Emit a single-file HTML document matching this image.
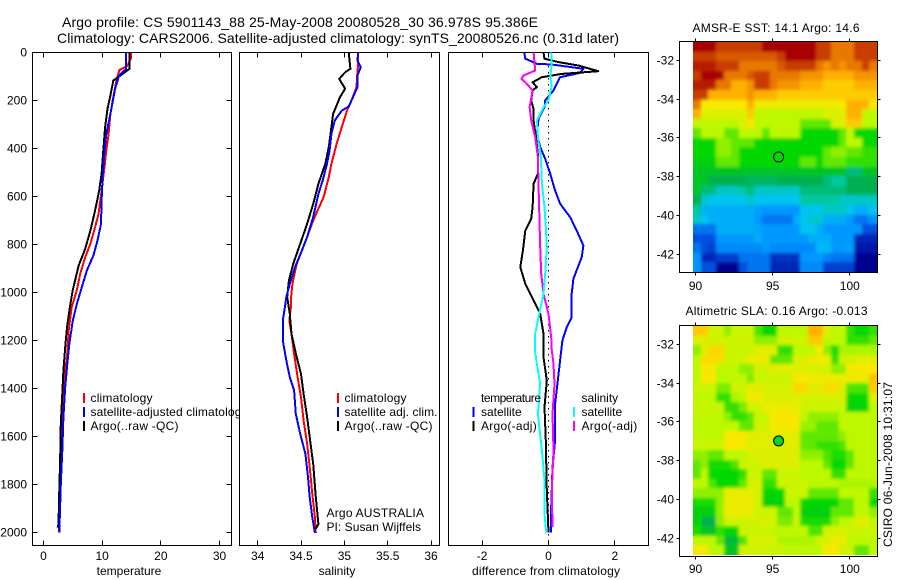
<!DOCTYPE html>
<html lang="en">
<head>
<meta charset="utf-8">
<title>Argo profile 5901143_88</title>
<style>
html,body{margin:0;padding:0;background:#fff;width:900px;height:580px;overflow:hidden}
svg{display:block}
text{font-family:"Liberation Sans",Arial,sans-serif;font-size:12px;fill:#000}
</style>
</head>
<body>
<svg id="chart" xmlns="http://www.w3.org/2000/svg" width="900" height="580" viewBox="0 0 900 580">
<defs>
<filter id="soften" x="-5%" y="-5%" width="110%" height="110%"><feGaussianBlur stdDeviation="1.5"/></filter>
<clipPath id="sst-clip"><rect x="693" y="42" width="184" height="230"/></clipPath>
<clipPath id="sla-clip"><rect x="693" y="326" width="184" height="229"/></clipPath>
</defs>
</svg>
<script>
/* ---------- temperature panel data ---------- */
const tempClimDepth = [0,26,57,72,110,186,256,339,408,478,575,672,728,797,853,922,989,1061,1158,1269,1353,1450,1575,1714,1880,2000];
const tempClimValue = [14.9,14.9,14.2,12.95,12.5,11.9,11.4,11.1,10.7,10.4,9.9,9.4,8.8,8.0,7.1,6.25,5.7,4.8,4.3,4.0,3.5,3.3,3.07,2.84,2.67,2.6];
const tempSatDepth = [0,68,96,151,256,339,408,505,617,714,783,846,908,989,1047,1117,1214,1311,1394,1520,1658,1797,1880,2000];
const tempSatValue = [14.1,14.1,12.9,12.2,11.4,10.7,10.4,10.1,9.9,9.8,9.2,8.5,7.4,6.4,5.7,5.0,4.4,4.0,3.7,3.4,3.2,2.95,2.84,2.7];
const tempArgoDepth = [0,68,96,117,179,235,311,408,505,575,658,742,818,887,989,1061,1144,1228,1325,1422,1547,1686,1839,1964,1980];
const tempArgoValue = [14.66,14.66,13.1,11.9,11.4,10.9,10.5,10.2,9.9,9.5,8.8,8.0,7.1,6.0,5.0,4.5,4.0,3.7,3.4,3.2,2.95,2.84,2.67,2.56,2.4];
const tempTicks = [0,10,20,30];

/* ---------- salinity panel data ---------- */
const salClimDepth = [0,47,82,144,193,242,311,381,464,519,603,651,700,769,825,881,964,1019,1054,1117,1172,1256,1353,1436,1533,1630,1728,1839,1936,2002];
const salClimValue = [35.16,35.16,35.15,35.14,35.09,35.03,34.97,34.91,34.85,34.82,34.76,34.70,34.64,34.57,34.51,34.45,34.40,34.385,34.385,34.365,34.39,34.42,34.46,34.5,34.53,34.57,34.6,34.63,34.66,34.67];
const salSatDepth = [0,33,61,96,144,186,225,242,283,339,408,464,533,589,686,769,825,894,964,1019,1047,1117,1200,1283,1353,1408,1506,1589,1672,1769,1853,1936,2002];
const salSatValue = [35.16,35.15,35.19,35.15,35.15,35.1,35.05,34.97,34.89,34.85,34.83,34.8,34.75,34.7,34.64,34.57,34.51,34.43,34.37,34.33,34.32,34.29,34.29,34.33,34.37,34.42,34.44,34.49,34.55,34.58,34.6,34.63,34.66];
const salArgoDepth = [0,68,82,110,151,186,221,256,311,394,464,547,631,714,797,881,950,1019,1089,1172,1269,1339,1422,1519,1603,1714,1853,1964,1985];
const salArgoValue = [35.05,35.07,35.01,34.94,35.01,34.95,34.91,34.87,34.85,34.82,34.78,34.7,34.64,34.57,34.49,34.41,34.36,34.34,34.37,34.39,34.45,34.5,34.53,34.57,34.6,34.64,34.67,34.7,34.67];
const salTicks = [34,34.5,35,35.5,36];

/* ---------- difference panel data ---------- */
const diffTSatDepth = [0,26,47,50,68,85,103,158,200,221,276,339,394,443,505,575,630,686,742,804,853,943,1005,1103,1144,1200,1283,1367,1464,1617,1728,1894,2000];
const diffTSatValue = [-0.73,-0.7,-0.35,0.1,1.05,0.95,0.35,0.15,-0.1,-0.1,-0.3,-0.35,-0.25,-0.1,0.05,0.2,0.35,0.65,0.85,1.05,1.0,0.75,0.7,0.7,0.55,0.42,0.35,0.28,0.2,0.2,0.12,0.08,0.08];
const diffTArgoDepth = [0,26,40,54,78,89,103,124,144,158,200,235,283,353,436,505,547,644,693,742,825,894,964,1033,1089,1172,1269,1367,1478,1617,1825,2000];
const diffTArgoValue = [-0.15,-0.12,0.3,0.9,1.5,0.4,-0.2,-0.48,-0.35,-0.48,-0.52,-0.45,-0.45,-0.38,-0.31,-0.32,-0.45,-0.48,-0.52,-0.7,-0.77,-0.85,-0.7,-0.45,-0.25,-0.15,-0.15,-0.05,-0.12,-0.08,-0.05,0];
const diffSSatDepth = [0,47,103,138,200,228,283,353,436,547,644,728,811,922,1005,1103,1172,1241,1297,1381,1506,1658,1783,1922,2000];
const diffSSatValue = [0.08,0.1,0.05,0.1,0,-0.15,-0.35,-0.32,-0.23,-0.2,-0.12,-0.08,-0.05,-0.1,-0.15,-0.3,-0.4,-0.41,-0.35,-0.25,-0.32,-0.2,-0.12,-0.12,-0.07];
const diffSArgoDepth = [0,75,96,110,124,158,228,283,353,436,547,658,811,922,1005,1089,1186,1241,1297,1381,1506,1658,1825,1978];
const diffSArgoValue = [-0.45,-0.4,-0.75,-0.82,-0.7,-0.48,-0.57,-0.52,-0.4,-0.32,-0.3,-0.28,-0.25,-0.22,-0.15,0,0.08,0.1,0.15,0.18,0.12,0.15,0.1,0.12];
const diffTicks = [-2,0,2];

const depthTicks = [0,200,400,600,800,1000,1200,1400,1600,1800,2000];

/* ---------- map axis data ---------- */
const lonTicks = [90,95,100];
const latTicks = [-32,-34,-36,-38,-40,-42];
const argoLon = [95.386];
const argoLat = [-36.978];

/* colour-scale position per cell, north to south */
const sstGrid = [
[13,13,13,12,12,12,12,12,12,13,13,13,13,13,13,13,12,12,11,11,11,12,12,12],
[12,12,12,11.5,11.5,11.5,11.5,11.5,11.5,11.5,11.5,12,13,13,13,13,12,12,11,11,11,12,12,12],
[12.5,12.5,12.5,12,12,12,11,11,11,11,11,11.5,12,12,12,12,11,10.5,11,10.5,11,11,12,11],
[12,13,13,13,11,11,11,11.5,12,12,11,11,11,11,10.5,10.5,10.5,10,10,10,10,10.5,10.5,10.5],
[12.5,12.5,12.5,11,11,10,10,10.5,12,12,11,10.5,10.5,10.5,10,10,10,9.5,9.5,9.5,9.5,10,10,10],
[12,12,10,10,10,10,10,10.5,10,10,10,9.5,9.5,9.5,9.5,9.5,9.5,9.5,9.5,9.5,9.5,9.5,9.5,9.5],
[11,9,9,9,9,9,9,10,8.8,8.8,8.8,8.8,8.8,8.8,8.8,8.8,8.8,8.8,8.8,9,10,10,10,9],
[10,8.5,8.5,8.5,8.5,8.5,8.5,9.5,8,8,8,8,8,8,8,8,8,8.5,8.5,8.5,10,10,8,8],
[8,8,8,8,8,8,8.5,9,8,8,8,8,8,8,7,7,7,7,8.5,8.5,9.5,9.5,8,8],
[7,8,8,8,7,7,8,8,8,7,8,8,8,8,6,6,6,6,6,7,8,6,6,6],
[6,6,6,7.5,7.5,7,7,7,6,6,6,6,6,6,6,6,6,6,6,7,8,8,6,6],
[6,6,6,7.5,7.5,7,6,6,6,6,6,6,6,6,6,6,6,7,7.5,7.5,7,7,6.5,6.5],
[5.8,5.8,5.8,7,7,7,6,6,6,6,6,6,6,6,7,7,6,7,7,7,6.5,6.5,6.5,6.5],
[5.5,5.5,5.5,5.5,5.5,5.5,5.5,5.5,5.5,5.5,5.5,5.5,5.5,5.5,5.5,5.5,5.5,5.5,5.5,5.5,4.5,4.5,5.5,5.5],
[5.5,5.5,5,5,5,5,5,4.8,4.8,4.8,4.8,5,5,5,5,5,5,4.5,4,4,5,5,5,5],
[5.5,4.5,4.5,3.5,3.5,3.5,4,4.5,3.5,3.5,3.5,3.5,3.5,3.5,4.5,4.5,4.5,4.5,4.5,4.5,5,5,5,5],
[5,3.5,3,3,3,3,3,3.5,3,3,3,3,3,3,4,4,4,4,4,3.5,3.5,3.5,3.5,3.5],
[4,2.5,2.5,2.5,2.5,2.5,2.5,2.5,2.2,2,2,2,2,2,3,3,3,3.5,3.5,3.5,3,2.5,2.5,3],
[3.5,3,2.5,2.5,2.5,2.5,2.5,2.5,2,1.5,1.5,1.5,1.5,2.5,3,3.5,3.5,2.5,2.5,2.5,2,1.5,1.5,2],
[1.5,1.5,1.5,2.5,2.5,2.5,2.5,2.5,2.3,2,2,2,2,2,3,3,2.5,2,2,2,2,2,1,1],
[1,1,1,2,2,2,2,2,2.5,2,2,2,2,2,2,2.5,2.5,2.5,2,2,2,0.5,0.5,0.5],
[1.5,1,0.8,1.8,1.8,1.8,1.8,1.8,1.8,2,1.8,1.8,1.8,1.8,1.8,1.8,2.7,2.7,2,2,2.2,0.3,0.3,0.3],
[2,0.5,0.5,0.8,0.8,0.8,1.5,1.5,1.5,1.5,0.6,0.6,0.6,0.6,2,2,2,1.7,1.5,1.5,1.5,0,0,0],
[2,1,1,0,0,0,1,1.5,1.5,1.5,0.5,0.5,0.5,0.5,1.8,1.8,1.8,0.8,0.8,0.8,0.8,0,0,0]
];
const slaGrid = [
[9.5,9.5,8.3,8.3,7.5,8.2,8.2,8.2,6.8,6,6,8,8,8,8,10,10,8.5,8,8,6.5,6,6,6.5],
[8.5,8.5,8.3,8.3,8.3,8.3,8.3,8.3,7.5,7.5,7.5,8.3,8.3,8.3,8.3,9.5,9.5,8,8,8,6.5,6.5,6.5,7],
[7.5,8.5,9.3,9.3,8.2,8.2,8.2,8.2,8.6,8.6,8.6,6.5,6.5,8,8,8,9,7.5,6.3,7.8,7.8,7.8,7.8,7.8],
[8,9.2,9.2,9.2,8.2,8.2,8.2,8.8,8.8,8.8,7,7,7,8.5,8.5,8.8,8.8,8.8,6.5,8.3,8.3,8.6,8.6,8.6],
[8,9,9,8,8,8,7.5,7.5,8.3,8.3,8.6,8.6,8.6,8.6,8.6,8.4,8.4,8.4,7.5,7.5,9,9,9,9],
[8,9,9,8,8,8,8,7.3,8.2,8.2,8.2,8.2,8.2,9,9,9,8.8,8.8,8.8,8.8,8.8,8.8,8.8,9.7],
[8.2,8.2,8.2,7.3,7.3,8.3,8.3,8.6,8.6,8.4,8.4,8.4,8.4,9.3,9.3,8.6,8.6,9.2,9.2,8.5,6.8,6.8,6.8,9.5],
[8,8,8,6.5,6.5,7.8,8,9,9,8.5,8.5,8.5,8.5,8.5,8.4,8.4,8.4,8.4,8.4,8.4,6,6,6,8.5],
[8.1,8.1,8.1,8.1,6.5,6.5,7.3,8.3,8.3,8.8,8.8,8.8,8.8,8.8,8.2,8.2,8.2,8.2,8.2,8.2,5.9,5.9,6,8],
[8,8,8,8,7.5,6.5,6.5,7,8.2,8.2,9,9,9,9,8,7.5,7.5,7.5,7.5,8,8,8,8,8],
[8,8,8,8,8,8,7,7,8.3,8.3,9,9,9,9,7.6,7.6,7,7,7,8,8,8,8,8],
[8,8,8,8,9,9,9,8.6,8.6,8.6,8.6,8.6,8.6,8.6,7,7,7,7,7,7.5,8,8,8,8],
[8.2,8.2,8.2,8.2,9,9,9,8.6,8.6,8.6,8.6,8.6,8.6,8.6,7,7,6.5,6.5,6.5,6.8,8,8,8,8],
[7.5,7.5,7,7,8,8,8,8.5,8.5,8.5,8.5,8.5,8.5,8.5,7.5,7.5,7.5,6.8,6.3,6.3,7,8,8,8],
[7,7.5,6.2,6.2,6.2,6.8,8.2,8.2,8.2,8.5,8.5,8.5,8.5,8.5,8,8,8,7,6,6,7,8,8,8],
[7,8,6,6,6,6,6.5,8.2,8.2,7,7,8.2,8.2,8.2,8,8,8,8,6.5,6.5,8,8,8,8],
[8,8,6.8,6,6,6,7,8.4,8.4,6.5,6.5,8.2,8.2,8.2,8.2,8,8,8,8,7.8,7.8,7.8,7.8,7.8],
[7.5,7.5,7.5,7.5,8.7,8.7,8.7,8.7,8.4,6,6,6,8.2,8.2,8.2,7,7,7,7,8,8,8,8,6.5],
[6.2,6.2,6.2,7.5,8.8,8.8,8.8,8.8,8.4,5.8,5.8,5.8,8,8,6,6,6,6,6,7,7,8,8,6],
[5.8,5.8,5.8,7.5,8.8,8.8,8.8,8.8,8.2,8.2,8.2,7,7,8,5.8,5.8,5.8,5.8,7,7,7,8,8,7.5],
[6,5,5,7.5,8.3,8.3,8.3,8.3,8.4,8.4,8.4,7.3,7.3,8.2,6.2,6.2,6.2,6.2,7.5,8,8,8.6,8.6,8],
[6.2,5.5,5.5,6.5,6,6,8.2,8.2,8.2,8.2,8,8,8,8,8,6.8,6.8,8.4,8.4,8.4,8.2,8.2,8.2,8.2],
[8,8,8,7,5.3,5.3,6.8,8.4,8.4,8.4,8.4,7.8,7.8,7.8,7.8,7.8,8.4,8.4,8.8,8.8,8,8,8,8],
[9,9,8,8,5.5,5.5,8.3,8.3,8.3,8.3,8.3,8.3,8,8,8,8,8,9,9,8.3,8.3,7,7,8]
];

/* ---------- drawing ---------- */
const svg = document.getElementById('chart');
const NS = 'http://www.w3.org/2000/svg';

function addTo(parent, tag, name, attrs) {
  const el = document.createElementNS(NS, tag);
  
  
  for (const k in attrs) el.setAttribute(k, attrs[k]);
  parent.appendChild(el);
  return el;
}
function add(tag, name, attrs) {
  return addTo(svg, tag, name, attrs);
}
function label(name, str, x, y, anchor, length) {
  const attrs = {x: x, y: y, 'text-anchor': anchor || 'start'};
  if (length) { attrs.textLength = length; attrs.lengthAdjust = 'spacing'; }
  const el = add('text', name, attrs);
  el.textContent = str;
  return el;
}
function seg(name, x1, y1, x2, y2, color, w) {
  return add('line', name, {x1: x1, y1: y1, x2: x2, y2: y2, stroke: color || '#000', 'stroke-width': w || 1, 'shape-rendering': 'crispEdges'});
}

const PANEL_TOP = 52.5, PANEL_BOTTOM = 545.5;
const yDepth = d => PANEL_TOP + 0.24 * d;
const xTemp = v => 43.5 + 5.867 * v;
const xSal = v => 257.7 + 86.67 * (v - 34);
const xDiff = v => 548.5 + 33.2 * v;
const xLon = v => 695.5 + 15.43 * (v - 90);
const yLatTop = v => 60.5 + 19.37 * (-32 - v);
const yLatBottom = v => 344.5 + 19.37 * (-32 - v);

function panelFrame(name, left, right, top, bottom) {
  add('rect', name, {x: left, y: top, width: right - left, height: bottom - top, fill: '#fff', stroke: '#000', 'stroke-width': 1, 'shape-rendering': 'crispEdges'});
}
function frameOnly(name, left, right, top, bottom) {
  add('rect', name, {x: left, y: top, width: right - left, height: bottom - top, fill: 'none', stroke: '#000', 'stroke-width': 1, 'shape-rendering': 'crispEdges'});
}
function profile(name, depths, values, xf, color, w) {
  const pts = depths.map((d, i) => xf(values[i]).toFixed(1) + ',' + yDepth(d).toFixed(1)).join(' ');
  add('polyline', name, {points: pts, fill: 'none', stroke: color, 'stroke-width': w || 2, 'stroke-linejoin': 'round', 'shape-rendering': 'crispEdges'});
}
function xAxis(prefix, ticks, xf, fmt, labelName, labelText, labelX, labelLen) {
  ticks.forEach(t => {
    const x = Math.round(xf(t) - 0.5) + 0.5;
    seg(prefix + '-tick-top', x, PANEL_TOP, x, PANEL_TOP + 5);
    seg(prefix + '-tick-bottom', x, PANEL_BOTTOM, x, PANEL_BOTTOM - 5);
    label(prefix + '-tick-label', fmt(t), xf(t), 560, 'middle');
  });
  label(labelName, labelText, labelX, 575, 'middle', labelLen);
}
function legendEntry(name, x, textX, y, color, str, len) {
  seg(name + '-swatch', x, y - 5, x, y + 5, color, 2);
  label(name + '-label', str, textX, y + 4, 'start', len);
}

/* titles */
label('title-line-1', 'Argo profile: CS 5901143_88 25-May-2008 20080528_30 36.978S 95.386E', 62, 27, 'start', 476).style.fontSize = '14px';
label('title-line-2', 'Climatology: CARS2006. Satellite-adjusted climatology: synTS_20080526.nc (0.31d later)', 57, 43, 'start', 562).style.fontSize = '14px';

/* panel 1: temperature */
panelFrame('temperature-panel', 32.5, 231.5, PANEL_TOP, PANEL_BOTTOM);
depthTicks.forEach(d => {
  const y = Math.round(yDepth(d) - 0.5) + 0.5;
  seg('depth-tick-left', 32.5, y, 37.5, y);
  seg('depth-tick-right', 231.5, y, 226.5, y);
  label('depth-tick-label', String(d), 27, y + 4, 'end');
});
xAxis('temperature-x', tempTicks, xTemp, String, 'temperature-axis-title', 'temperature', 129);
profile('temperature-climatology-line', tempClimDepth, tempClimValue, xTemp, '#ff0000');
profile('temperature-argo-line', tempArgoDepth, tempArgoValue, xTemp, '#000000');
profile('temperature-satellite-line', tempSatDepth, tempSatValue, xTemp, '#0000ff');
legendEntry('temperature-legend-climatology', 84, 90.5, 398, '#ff0000', 'climatology', 62);
legendEntry('temperature-legend-satellite', 84, 90.5, 412, '#0000ff', 'satellite-adjusted climatology', 157);
legendEntry('temperature-legend-argo', 84, 90.5, 426, '#000000', 'Argo(..raw -QC)', 88);

/* panel 2: salinity */
panelFrame('salinity-panel', 239.5, 439.5, PANEL_TOP, PANEL_BOTTOM);
xAxis('salinity-x', salTicks, xSal, String, 'salinity-axis-title', 'salinity', 337);
profile('salinity-climatology-line', salClimDepth, salClimValue, xSal, '#ff0000');
profile('salinity-argo-line', salArgoDepth, salArgoValue, xSal, '#000000');
profile('salinity-satellite-line', salSatDepth, salSatValue, xSal, '#0000ff');
legendEntry('salinity-legend-climatology', 338, 344.5, 398, '#ff0000', 'climatology', 62);
legendEntry('salinity-legend-satellite', 338, 344.5, 412, '#0000ff', 'satellite adj. clim.', 93);
legendEntry('salinity-legend-argo', 338, 344.5, 426, '#000000', 'Argo(..raw -QC)', 88);
label('float-country-note', 'Argo AUSTRALIA', 326.5, 517, 'start', 97.5);
label('float-pi-note', 'PI: Susan Wijffels', 326.5, 531, 'start', 94.5);

/* panel 3: differences */
panelFrame('difference-panel', 448.5, 648.5, PANEL_TOP, PANEL_BOTTOM);
xAxis('difference-x', diffTicks, xDiff, String, 'difference-axis-title', 'difference from climatology', 546, 148);
add('line', 'zero-reference-line', {x1: xDiff(0), y1: 66, x2: xDiff(0), y2: PANEL_BOTTOM, stroke: '#000', 'stroke-width': 1, 'stroke-dasharray': '1.5 4.5', 'shape-rendering': 'crispEdges'});
profile('difference-temperature-satellite-line', diffTSatDepth, diffTSatValue, xDiff, '#0000ff');
profile('difference-temperature-argo-line', diffTArgoDepth, diffTArgoValue, xDiff, '#000000');
profile('difference-salinity-argo-line', diffSArgoDepth, diffSArgoValue, xDiff, '#ff00ff');
profile('difference-salinity-satellite-line', diffSSatDepth, diffSSatValue, xDiff, '#00ffff');
label('difference-legend-temperature-heading', 'temperature', 481, 402, 'start', 60);
legendEntry('difference-legend-temperature-satellite', 473.5, 481, 412, '#0000ff', 'satellite');
legendEntry('difference-legend-temperature-argo', 473.5, 481, 426, '#000000', 'Argo(-adj)', 55.7);
label('difference-legend-salinity-heading', 'salinity', 581.5, 402);
legendEntry('difference-legend-salinity-satellite', 574, 581.5, 412, '#00ffff', 'satellite');
legendEntry('difference-legend-salinity-argo', 574, 581.5, 426, '#ff00ff', 'Argo(-adj)', 55.7);

/* maps */
const colorStops = [
  [0,0,144],[0,80,224],[0,152,255],[0,196,240],[0,200,160],[0,176,80],
  [0,216,0],[96,232,0],[190,248,0],[248,232,0],[255,176,0],[232,120,0],[200,60,0],[168,0,0]
];
function colorOf(v) {
  const c = Math.max(0, Math.min(colorStops.length - 1, v));
  const i = Math.min(colorStops.length - 2, Math.floor(c));
  const f = c - i;
  const a = colorStops[i], b = colorStops[i + 1];
  return 'rgb(' + [0, 1, 2].map(k => Math.round(a[k] + (b[k] - a[k]) * f)).join(',') + ')';
}
function heatmap(name, grid, left, right, top, bottom, clipId) {
  const g = add('g', name, {id: name, 'clip-path': 'url(#' + clipId + ')'});
  const rows = grid.length;
  grid.forEach((row, r) => {
    const cols = row.length;
    row.forEach((v, c) => {
      const x0 = Math.round(left + (right - left) * c / cols);
      const x1 = Math.round(left + (right - left) * (c + 1) / cols);
      const y0 = Math.round(top + (bottom - top) * r / rows);
      const y1 = Math.round(top + (bottom - top) * (r + 1) / rows);
      addTo(g, 'rect', name + '-cell', {x: x0, y: y0, width: x1 - x0, height: y1 - y0, fill: colorOf(v), 'shape-rendering': 'crispEdges'});
    });
  });
  /* softened copy over the cells so the coarse blocks read as a continuous field */
  const holder = add('g', name + '-softened', {'clip-path': 'url(#' + clipId + ')'});
  addTo(holder, 'use', name + '-softened-copy', {href: '#' + name, filter: 'url(#soften)'});
}
function mapAxes(prefix, top, bottom, yf, tickLabelY) {
  frameOnly(prefix + '-frame', 679.5, 877.5, top, bottom);
  lonTicks.forEach(t => {
    const x = Math.round(xLon(t) - 0.5) + 0.5;
    seg(prefix + '-lon-tick-top', x, top, x, top - 3);
    seg(prefix + '-lon-tick-bottom', x, bottom, x, bottom + 3);
    label(prefix + '-lon-tick-label', String(t), xLon(t), tickLabelY, 'middle');
  });
  latTicks.forEach(t => {
    const y = Math.round(yf(t) - 0.5) + 0.5;
    seg(prefix + '-lat-tick-left', 679.5, y, 676.5, y);
    seg(prefix + '-lat-tick-right', 877.5, y, 880.5, y);
    label(prefix + '-lat-tick-label', String(t), 674, y + 4, 'end');
  });
}

heatmap('sst-map-image', sstGrid, 693, 877, 42, 272, 'sst-clip');
mapAxes('sst-map', 41.5, 272.5, yLatTop, 290);
label('sst-map-title', 'AMSR-E SST: 14.1 Argo: 14.6', 692.5, 32, 'start', 167);
add('circle', 'sst-argo-location', {cx: xLon(argoLon[0]), cy: yLatTop(argoLat[0]), r: 5, fill: 'none', stroke: '#000', 'stroke-width': 1});

heatmap('sla-map-image', slaGrid, 693, 877, 326, 555, 'sla-clip');
mapAxes('sla-map', 325.5, 556.5, yLatBottom, 573);
label('sla-map-title', 'Altimetric SLA: 0.16 Argo: -0.013', 685.5, 315, 'start', 182);
add('circle', 'sla-argo-location', {cx: xLon(argoLon[0]), cy: yLatBottom(argoLat[0]), r: 5, fill: '#00d820', stroke: '#000', 'stroke-width': 1});

/* stamp */
const stamp = label('csiro-timestamp', 'CSIRO 06-Jun-2008 10:31:07', 0, 0, 'start', 165);
stamp.setAttribute('transform', 'translate(892 547) rotate(-90)');
</script>
</body>
</html>
